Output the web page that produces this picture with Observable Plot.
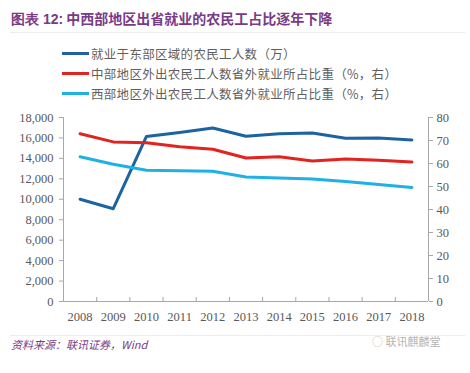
<!DOCTYPE html>
<html>
<head>
<meta charset="utf-8">
<script src="https://cdn.jsdelivr.net/npm/d3@7"></script>
<script src="https://cdn.jsdelivr.net/npm/@observablehq/plot@0.6"></script>
<style>
  html, body { margin: 0; padding: 0; background: #fff; }
  #page { position: relative; width: 470px; height: 373px; overflow: hidden; font-family: "Noto Sans CJK SC", sans-serif; }
  #title { position: absolute; left: 11px; top: 11px; font-size: 14px; font-weight: bold; color: #7a3b86; line-height: 1; white-space: nowrap; }
  #title .num { font-family: "Liberation Sans", Arial, sans-serif; }
  .sep { position: absolute; left: 10px; width: 455px; height: 1px; background: #ececec; }
  #legend { position: absolute; left: 62px; top: 43px; }
  .li { display: flex; align-items: center; height: 20px; font-size: 12.5px; letter-spacing: 0.3px; color: #5f5f5f; white-space: nowrap; }
  .sw { width: 27px; height: 3px; margin-right: 2px; }
  #chart { position: absolute; left: 0; top: 100px; }
  #caption { position: absolute; left: 11px; top: 339px; font-size: 11px; font-style: italic; color: #7a3b86; line-height: 1; }
  #mark { position: absolute; left: 372px; top: 336px; font-size: 11px; color: #b5b5b5; line-height: 1; }
</style>
</head>
<body>
<div id="page">
  <div id="title"></div>
  <div class="sep" style="top:32px"></div>
  <div id="legend"></div>
  <div id="chart"></div>
  <div class="sep" style="top:335px"></div>
  <div id="caption"></div>
  <div id="mark"></div>
</div>
<script>
// ---- data ----
const years = [2008, 2009, 2010, 2011, 2012, 2013, 2014, 2015, 2016, 2017, 2018];
const eastWorkers = [10000, 9076, 16150, 16540, 16980, 16170, 16420, 16490, 15960, 15990, 15810]; // 万, left axis
const centralShare = [72.9, 69.4, 69.0, 67.3, 66.2, 62.4, 62.9, 61.1, 62.0, 61.4, 60.6];   // %, right axis
const westShare = [62.9, 59.7, 57.1, 56.8, 56.6, 54.1, 53.7, 53.3, 52.2, 50.9, 49.6];      // %, right axis
const seriesNames = [
  "就业于东部区域的农民工人数（万）",
  "中部地区外出农民工人数省外就业所占比重（%，右）",
  "西部地区外出农民工人数省外就业所占比重（%，右）"
];
const seriesColors = ["#1c63a0", "#e2231f", "#1fb0e4"];
const leftTicks = [0, 2000, 4000, 6000, 8000, 10000, 12000, 14000, 16000, 18000];
const rightTicks = [0, 10, 20, 30, 40, 50, 60, 70, 80];
const titleText = "中西部地区出省就业的农民工占比逐年下降";
const titlePrefix = "图表 12:";
const captionText = "资料来源：联讯证券，Wind";
const watermarkText = "◌ 联讯麒麟堂";

// right axis (0–80) mapped onto left scale (0–18000)
const k = 18000 / 80;

const rows = [];
years.forEach((y, i) => {
  rows.push({year: y, value: eastWorkers[i], s: 0});
  rows.push({year: y, value: centralShare[i] * k, s: 1});
  rows.push({year: y, value: westShare[i] * k, s: 2});
});

document.getElementById("title").innerHTML = `<span class="num">${titlePrefix}</span> ${titleText}`;
document.getElementById("caption").textContent = captionText;
document.getElementById("mark").textContent = watermarkText;
const legend = document.getElementById("legend");
seriesNames.forEach((n, i) => {
  const d = document.createElement("div");
  d.className = "li";
  d.innerHTML = `<span class="sw" style="background:${seriesColors[i]}"></span><span>${n}</span>`;
  legend.appendChild(d);
});

const x0 = years[0] - 0.5, x1 = years[years.length - 1] + 0.5;
const boundaries = d3.range(x0, x1 + 0.01, 1);
const axisColor = "#a8a8a8";

const chart = Plot.plot({
  width: 470,
  height: 230,
  marginLeft: 63,
  marginRight: 42,
  marginTop: 17,
  marginBottom: 29,
  style: {fontFamily: "'Liberation Serif', 'Times New Roman', serif", fontSize: "12.5px", color: "#595959", background: "transparent"},
  x: {domain: [x0, x1]},
  y: {domain: [0, 18000]},
  marks: [
    Plot.ruleX([x0], {stroke: axisColor}),
    Plot.ruleX([x1], {stroke: axisColor}),
    Plot.ruleY([0], {stroke: axisColor}),
    Plot.axisY(leftTicks, {anchor: "left", tickSize: 4, tickPadding: 6, stroke: axisColor, tickFormat: d3.format(","), label: null}),
    Plot.axisY(rightTicks.map(v => v * k), {anchor: "right", tickSize: 4, tickPadding: 4, stroke: axisColor, tickFormat: d => String(Math.round(d / k)), label: null}),
    Plot.axisX(boundaries, {tickSize: -4, stroke: axisColor, tickFormat: () => "", label: null}),
    Plot.axisX(years, {tickSize: 0, tickPadding: 11, tickFormat: d => String(d), label: null}),
    Plot.line(rows, {x: "year", y: "value", z: "s", stroke: d => seriesColors[d.s], strokeWidth: 3, strokeLinejoin: "round"})
  ]
});
document.getElementById("chart").appendChild(chart);
</script>
</body>
</html>
